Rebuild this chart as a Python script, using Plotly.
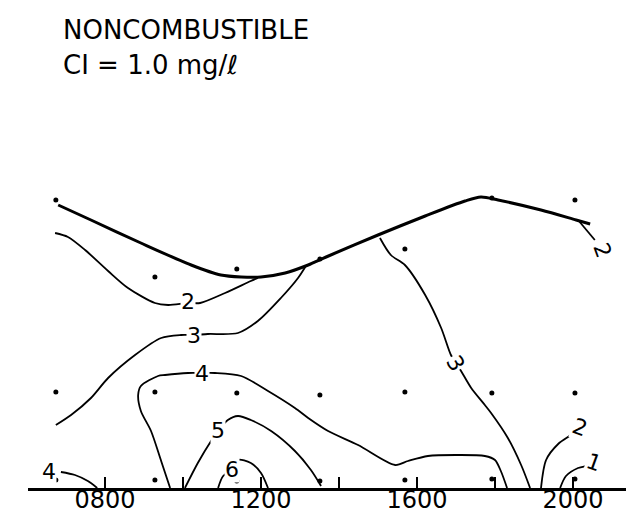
import plotly.graph_objects as go

# sampling columns (decimal hours) and heights (m above ground)
dot_time = [6.74, 9.28, 11.38, 13.51, 15.69, 17.92, 20.05]
surface_h = [8, 8, 7, 7, 8, 9, 9]
middle_h = [96, 96, 95, 93, 96, 95, 95]
top_h = [288, 211, 219, 229, 239, 290, 288]

# top of mixed layer (heavy line)
mix_t = [6.80, 7.64, 8.92, 10.21, 10.97, 11.49, 12.00, 12.62, 13.21, 13.67, 15.00, 16.21, 17.23, 17.64, 18.08, 19.18, 20.08, 20.44]
mix_h = [283, 268, 245, 223, 213, 211, 211, 215, 223, 231, 253, 272, 287, 291, 288, 278, 268, 264]

# isopleths
c2_left_t = [6.72, 7.05, 7.49, 8.08, 8.59, 9.28, 9.62, 10.13, 10.44, 11.08, 11.74, 11.92]
c2_left_h = [255, 251, 238, 217, 200, 185, 183, 185, 185, 195, 207, 210]

c3_left_t = [6.74, 7.13, 7.64, 8.08, 8.77, 9.44, 9.95, 10.28, 10.64, 11.41, 11.92, 12.51, 12.95, 13.15]
c3_left_h = [63, 73, 90, 110, 133, 150, 153, 153, 154, 155, 167, 190, 210, 222]

c3_right_t = [15.05, 15.33, 15.69, 16.21, 16.62, 16.87, 17.00, 17.13, 17.39, 17.74, 17.90, 18.33, 18.67, 18.90]
c3_right_h = [250, 233, 223, 193, 160, 133, 125, 117, 100, 83, 75, 50, 23, 0]

c2_right_t = [19.18, 19.31, 19.62, 19.95, 20.18]
c2_right_h = [0, 28, 44, 53, 60]

c1_t = [19.67, 19.82, 20.13, 20.44, 20.56]
c1_h = [0, 12, 20, 23, 26]

c2_top_t = [20.13, 20.56]
c2_top_h = [268, 248]

c4_t = [9.67, 9.44, 9.18, 8.92, 8.85, 8.92, 9.36, 9.54, 10.13, 10.49, 10.82, 11.49, 12.18, 12.87, 13.21, 13.72,
        14.49, 15.44, 15.77, 16.28, 17.05, 17.74, 18.00, 18.15, 18.31]
c4_h = [0, 27, 57, 77, 93, 102, 112, 113, 115, 115, 115, 112, 97, 80, 70, 57, 43, 23, 27, 32, 33, 32, 28, 17, 0]

c4_small_t = [6.87, 7.23, 7.56, 7.80]
c4_small_h = [16, 13, 7, 0]

c5_t = [10.05, 10.38, 10.72, 10.90, 11.15, 11.41, 11.74, 12.26, 12.87, 13.28, 13.54]
c5_h = [0, 25, 47, 57, 68, 72, 68, 57, 37, 18, 2]

c6_t = [10.90, 11.03, 11.28, 11.41, 11.74, 12.00, 12.18]
c6_h = [0, 12, 18, 28, 25, 15, 0]

# isopleth labels: text, time, height, tilt
labels = [
    ("2", 10.13, 187, 0), ("3", 10.28, 153, 0), ("4", 10.49, 115, 0),
    ("5", 10.90, 58, 0), ("6", 11.26, 19, 0), ("4", 6.56, 17, 0),
    ("3", 17.00, 125, 60), ("2", 20.18, 61, 20), ("1", 20.54, 26, 20),
    ("2", 20.77, 238, 70),
]

tick_vals = [8, 12, 16, 20]
tick_text = ["0800", "1200", "1600", "2000"]
minor_vals = [6.04, 10, 14, 18]

fig = go.Figure()

iso = [
    (c2_left_t, c2_left_h), (c3_left_t, c3_left_h), (c3_right_t, c3_right_h),
    (c2_right_t, c2_right_h), (c1_t, c1_h), (c2_top_t, c2_top_h),
    (c4_t, c4_h), (c4_small_t, c4_small_h), (c5_t, c5_h), (c6_t, c6_h),
]
for t, h in iso:
    fig.add_trace(go.Scatter(x=t, y=h, mode="lines",
                             line=dict(color="black", width=1.8, shape="spline", smoothing=0.8)))

fig.add_trace(go.Scatter(x=mix_t, y=mix_h, mode="lines",
                         line=dict(color="black", width=3, shape="spline", smoothing=0.8)))

for row in (surface_h, middle_h, top_h):
    fig.add_trace(go.Scatter(x=dot_time, y=row, mode="markers",
                             marker=dict(color="black", size=5)))

for txt, t, h, ang in labels:
    fig.add_annotation(x=t, y=h, text=txt, showarrow=False, textangle=ang,
                       bgcolor="white", borderpad=0,
                       font=dict(size=22, color="black"))

fig.add_annotation(xref="paper", yref="paper", x=0.054, y=0.954, xanchor="left", yanchor="middle",
                   text="NONCOMBUSTIBLE", showarrow=False, font=dict(size=26, color="black"))
fig.add_annotation(xref="paper", yref="paper", x=0.054, y=0.882, xanchor="left", yanchor="middle",
                   text="CI = 1.0 mg/ℓ", showarrow=False, font=dict(size=26, color="black"))

fig.update_layout(
    width=634, height=518,
    margin=dict(l=20, r=4, t=0, b=38),
    paper_bgcolor="white", plot_bgcolor="white",
    showlegend=False,
    font=dict(family="DejaVu Sans", color="black"),
    xaxis=dict(range=[6.026, 21.667], showgrid=False, zeroline=False,
               showline=True, linecolor="black", linewidth=2.5,
               tickvals=tick_vals, ticktext=tick_text,
               ticks="inside", ticklen=11, tickwidth=1.5, tickcolor="black",
               minor=dict(tickvals=minor_vals, ticks="inside", ticklen=11, tickwidth=1.5, tickcolor="black"),
               ticklabelstandoff=-12,
               tickfont=dict(size=24, color="black")),
    yaxis=dict(range=[0, 480], visible=False),
)

fig.write_html("out.html")
